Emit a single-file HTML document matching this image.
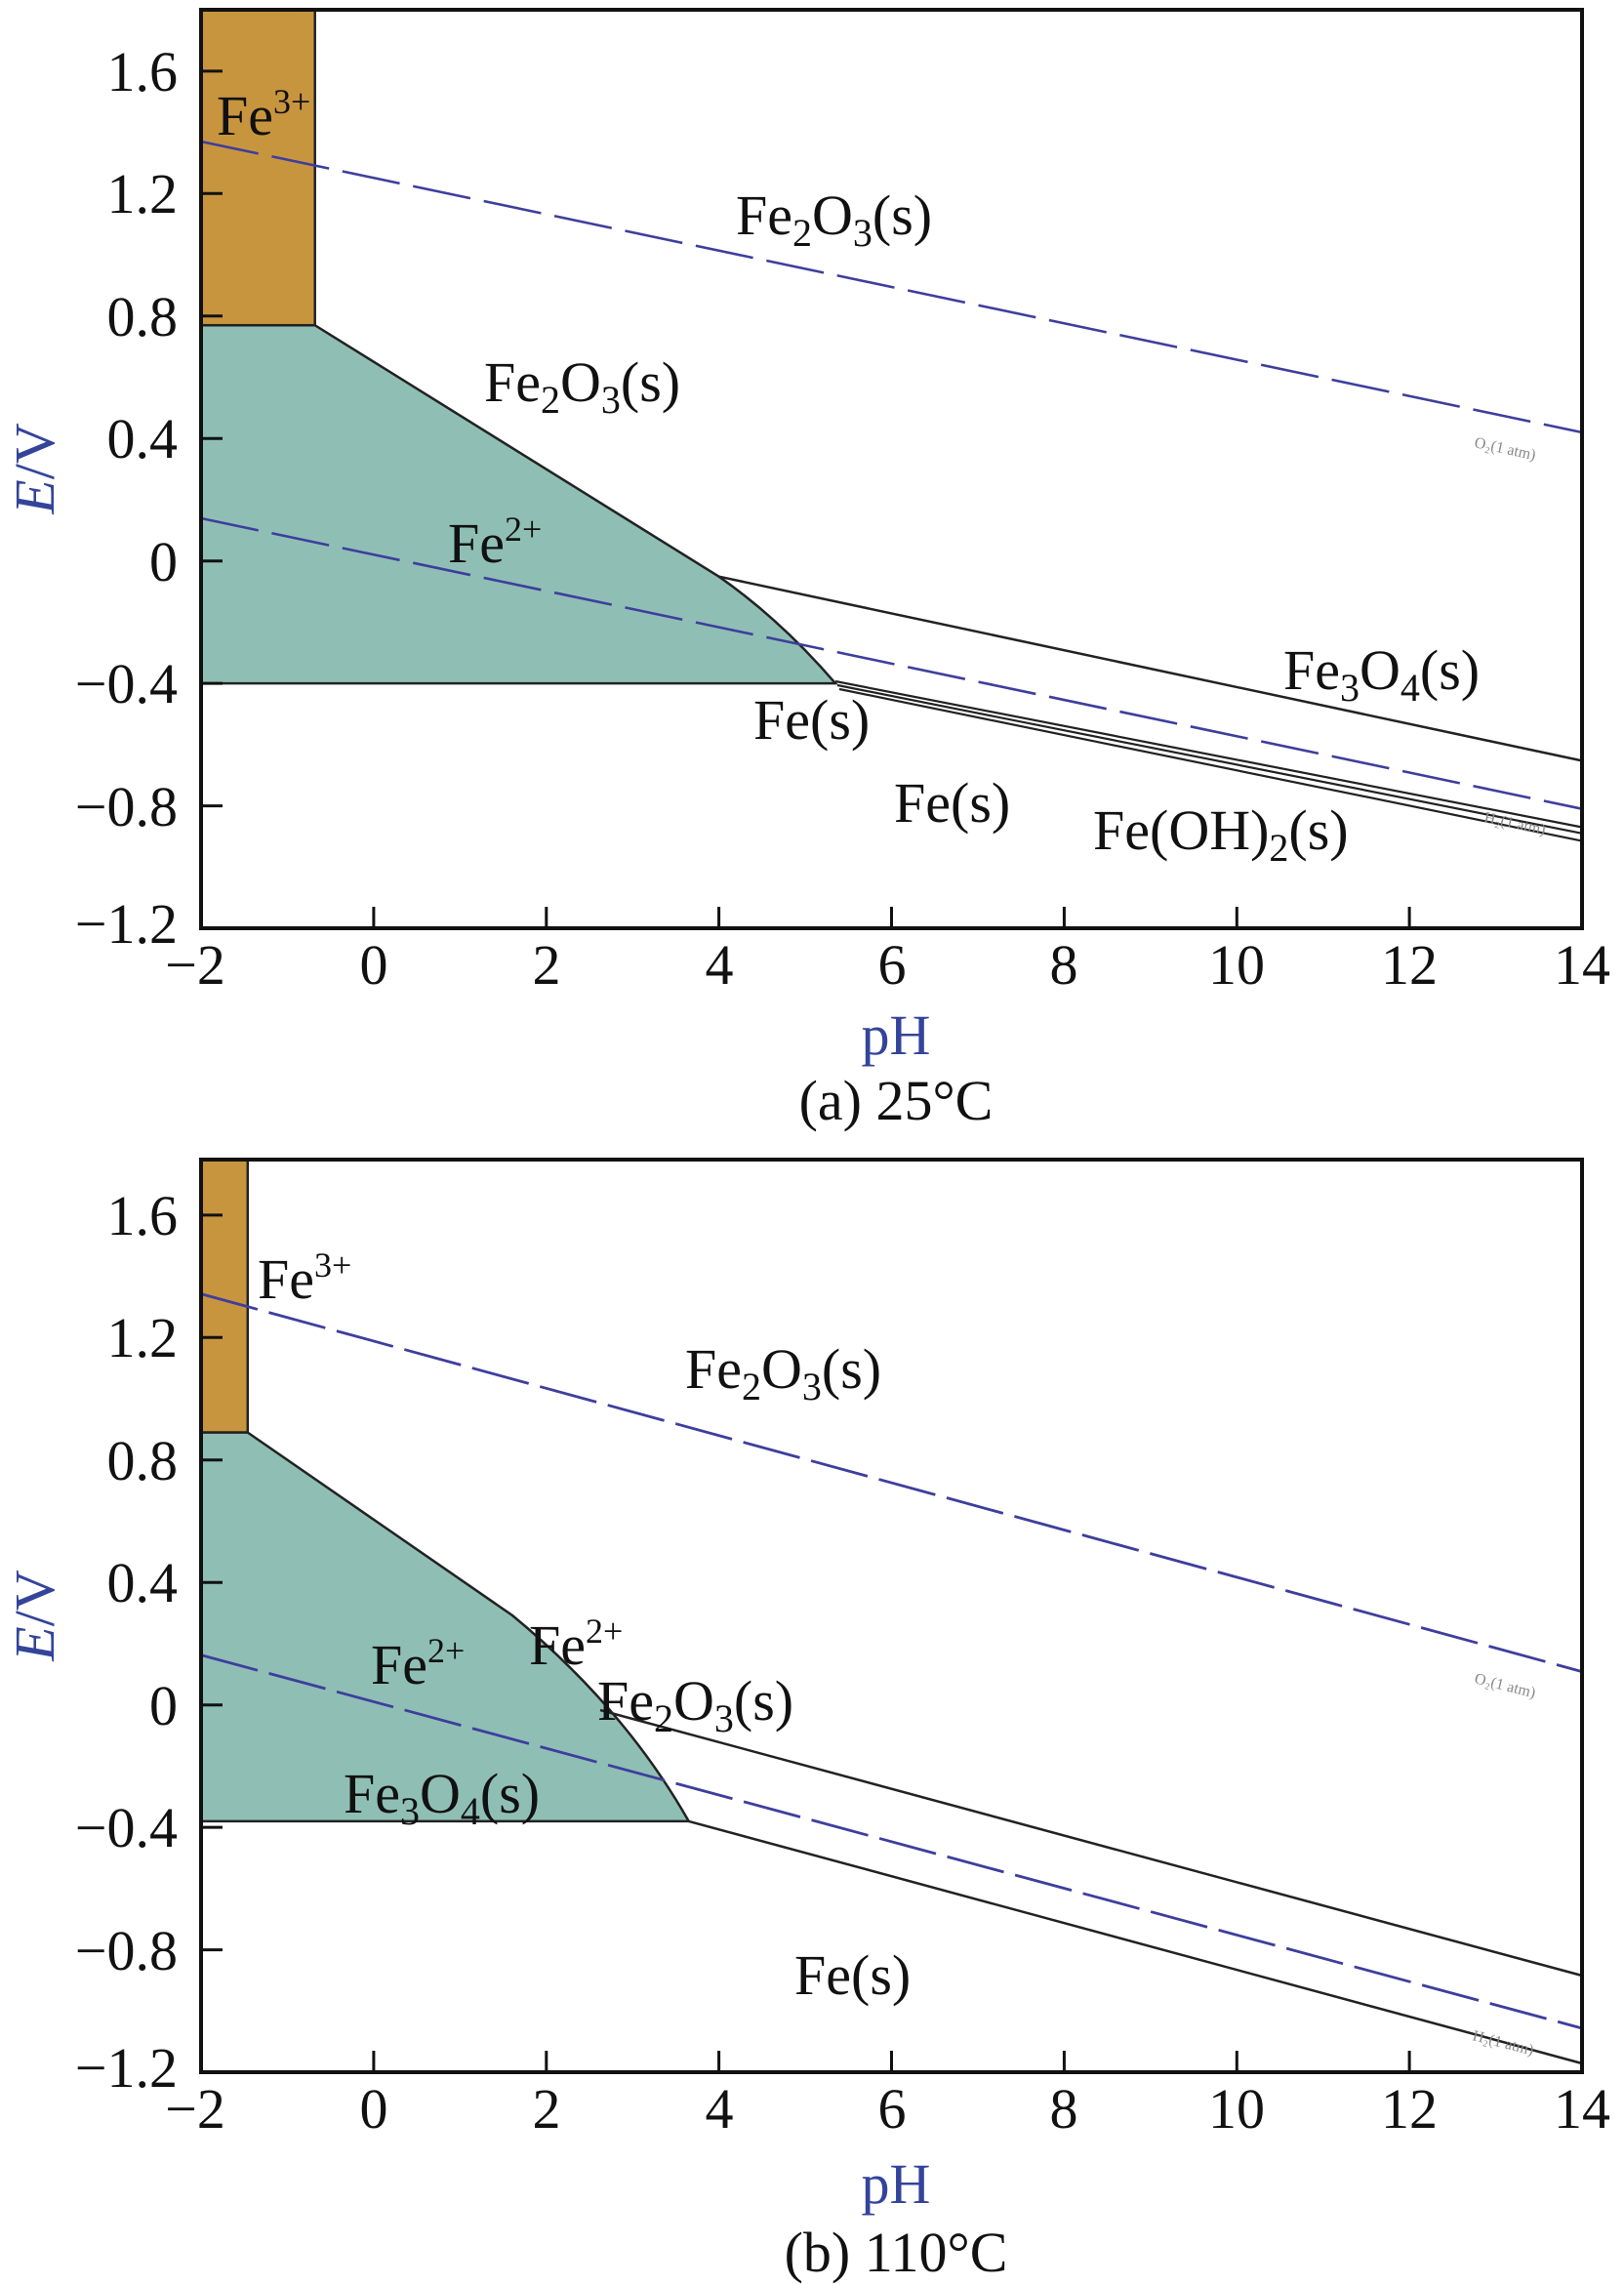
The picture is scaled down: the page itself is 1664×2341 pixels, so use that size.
<!DOCTYPE html>
<html><head><meta charset="utf-8"><style>
html,body{margin:0;padding:0;background:#fff}
svg{display:block}
text{font-family:"Liberation Serif",serif;fill:#111}
.t{font-size:58px}
.l{font-size:58px}
.ax{font-size:58px;fill:#34449a}
.sm{font-size:16px;fill:#888}
</style></head><body>
<svg width="1664" height="2341" viewBox="0 0 1664 2341" xmlns="http://www.w3.org/2000/svg">
<!-- ============ PLOT A ============ -->
<g>
<rect x="206" y="10" width="116.7" height="323.2" fill="#c8953f" stroke="#222" stroke-width="2.5"/>
<path d="M206,333.2 L322.7,333.2 L736.6,590.7 Q800,635 856,700.1 L206,700.1 Z" fill="#8fbfb4" stroke="#222" stroke-width="2.5"/>
<line x1="736.6" y1="590.7" x2="1621" y2="779.4" stroke="#222" stroke-width="2.5"/>
<line x1="856" y1="698" x2="1621" y2="847.5" stroke="#222" stroke-width="2.2"/>
<line x1="858" y1="702" x2="1621" y2="853.8" stroke="#222" stroke-width="2.2"/>
<line x1="860" y1="706" x2="1621" y2="861.6" stroke="#222" stroke-width="2.2"/>
<line x1="206" y1="531" x2="1621" y2="828.7" stroke="#3e3e9e" stroke-width="2.6" stroke-dasharray="60,14"/>
<line x1="206" y1="145" x2="1621" y2="443" stroke="#3e3e9e" stroke-width="2.6" stroke-dasharray="60,14"/>
<text class="sm" transform="translate(1510,458) rotate(12)">O₂(1 atm)</text>
<text class="sm" transform="translate(1520,842) rotate(12)">H₂(1 atm)</text>
<rect x="206" y="10" width="1415" height="941" fill="none" stroke="#111" stroke-width="4"/>
<g stroke="#111" stroke-width="3">
<line x1="206" y1="72.9" x2="228" y2="72.9"/><line x1="206" y1="198.3" x2="228" y2="198.3"/>
<line x1="206" y1="323.8" x2="228" y2="323.8"/><line x1="206" y1="449.2" x2="228" y2="449.2"/>
<line x1="206" y1="574.7" x2="228" y2="574.7"/><line x1="206" y1="700.1" x2="228" y2="700.1"/>
<line x1="206" y1="825.6" x2="228" y2="825.6"/>
<line x1="382.9" y1="951" x2="382.9" y2="929"/><line x1="559.8" y1="951" x2="559.8" y2="929"/>
<line x1="736.6" y1="951" x2="736.6" y2="929"/><line x1="913.5" y1="951" x2="913.5" y2="929"/>
<line x1="1090.4" y1="951" x2="1090.4" y2="929"/><line x1="1267.3" y1="951" x2="1267.3" y2="929"/>
<line x1="1444.1" y1="951" x2="1444.1" y2="929"/>
</g>
<g class="t" text-anchor="end">
<text x="182" y="93">1.6</text><text x="182" y="218">1.2</text><text x="182" y="344">0.8</text>
<text x="182" y="469">0.4</text><text x="182" y="595">0</text><text x="182" y="720">−0.4</text>
<text x="182" y="846">−0.8</text><text x="182" y="966">−1.2</text>
</g>
<g class="t" text-anchor="middle">
<text x="200" y="1008">−2</text><text x="383" y="1008">0</text><text x="560" y="1008">2</text>
<text x="737" y="1008">4</text><text x="914" y="1008">6</text><text x="1090" y="1008">8</text>
<text x="1267" y="1008">10</text><text x="1444" y="1008">12</text><text x="1621" y="1008">14</text>
</g>
<text class="ax" x="918" y="1080" text-anchor="middle">pH</text>
<text class="t" x="918" y="1147" text-anchor="middle">(a) 25°C</text>
<text class="ax" transform="translate(55,480) rotate(-90)" text-anchor="middle"><tspan font-style="italic">E</tspan>/V</text>
<g class="l">
<text x="222" y="138">Fe<tspan font-size="36" dy="-22">3+</tspan></text>
<text x="754" y="240">Fe<tspan font-size="40" dy="12">2</tspan><tspan dy="-12">O</tspan><tspan font-size="40" dy="12">3</tspan><tspan dy="-12">(s)</tspan></text>
<text x="496" y="411">Fe<tspan font-size="40" dy="12">2</tspan><tspan dy="-12">O</tspan><tspan font-size="40" dy="12">3</tspan><tspan dy="-12">(s)</tspan></text>
<text x="459" y="576">Fe<tspan font-size="36" dy="-22">2+</tspan></text>
<text x="1315" y="706">Fe<tspan font-size="40" dy="12">3</tspan><tspan dy="-12">O</tspan><tspan font-size="40" dy="12">4</tspan><tspan dy="-12">(s)</tspan></text>
<text x="772" y="757">Fe(s)</text>
<text x="916" y="842">Fe(s)</text>
<text x="1120" y="870">Fe(OH)<tspan font-size="40" dy="12">2</tspan><tspan dy="-12">(s)</tspan></text>
</g>
</g>
<!-- ============ PLOT B ============ -->
<g>
<rect x="206" y="1188" width="47.8" height="279.6" fill="#c8953f" stroke="#222" stroke-width="2.5"/>
<path d="M206,1467.6 L253.8,1467.6 L525,1655 Q640,1750 705.7,1865.9 L206,1865.9 Z" fill="#8fbfb4" stroke="#222" stroke-width="2.5"/>
<line x1="615" y1="1752" x2="1621" y2="2024" stroke="#222" stroke-width="2.5"/>
<line x1="705.7" y1="1865.9" x2="1621" y2="2114" stroke="#222" stroke-width="2.5"/>
<line x1="206" y1="1695.6" x2="1621" y2="2078" stroke="#3e3e9e" stroke-width="2.8" stroke-dasharray="60,12"/>
<line x1="206" y1="1325.6" x2="1621" y2="1712.6" stroke="#3e3e9e" stroke-width="2.8" stroke-dasharray="60,12"/>
<text class="sm" transform="translate(1510,1724) rotate(14)">O₂(1 atm)</text>
<text class="sm" transform="translate(1508,2090) rotate(14)">H₂(1 atm)</text>
<rect x="206" y="1188" width="1415" height="935" fill="none" stroke="#111" stroke-width="4"/>
<g stroke="#111" stroke-width="3">
<line x1="206" y1="1244.9" x2="228" y2="1244.9"/><line x1="206" y1="1370.3" x2="228" y2="1370.3"/>
<line x1="206" y1="1495.8" x2="228" y2="1495.8"/><line x1="206" y1="1621.2" x2="228" y2="1621.2"/>
<line x1="206" y1="1746.7" x2="228" y2="1746.7"/><line x1="206" y1="1872.1" x2="228" y2="1872.1"/>
<line x1="206" y1="1997.6" x2="228" y2="1997.6"/>
<line x1="382.9" y1="2123" x2="382.9" y2="2101"/><line x1="559.8" y1="2123" x2="559.8" y2="2101"/>
<line x1="736.6" y1="2123" x2="736.6" y2="2101"/><line x1="913.5" y1="2123" x2="913.5" y2="2101"/>
<line x1="1090.4" y1="2123" x2="1090.4" y2="2101"/><line x1="1267.3" y1="2123" x2="1267.3" y2="2101"/>
<line x1="1444.1" y1="2123" x2="1444.1" y2="2101"/>
</g>
<g class="t" text-anchor="end">
<text x="182" y="1265">1.6</text><text x="182" y="1390">1.2</text><text x="182" y="1516">0.8</text>
<text x="182" y="1641">0.4</text><text x="182" y="1767">0</text><text x="182" y="1892">−0.4</text>
<text x="182" y="2018">−0.8</text><text x="182" y="2138">−1.2</text>
</g>
<g class="t" text-anchor="middle">
<text x="200" y="2180">−2</text><text x="383" y="2180">0</text><text x="560" y="2180">2</text>
<text x="737" y="2180">4</text><text x="914" y="2180">6</text><text x="1090" y="2180">8</text>
<text x="1267" y="2180">10</text><text x="1444" y="2180">12</text><text x="1621" y="2180">14</text>
</g>
<text class="ax" x="918" y="2257" text-anchor="middle">pH</text>
<text class="t" x="918" y="2327" text-anchor="middle">(b) 110°C</text>
<text class="ax" transform="translate(55,1655) rotate(-90)" text-anchor="middle"><tspan font-style="italic">E</tspan>/V</text>
<g class="l">
<text x="264" y="1330">Fe<tspan font-size="36" dy="-22">3+</tspan></text>
<text x="702" y="1422">Fe<tspan font-size="40" dy="12">2</tspan><tspan dy="-12">O</tspan><tspan font-size="40" dy="12">3</tspan><tspan dy="-12">(s)</tspan></text>
<text x="380" y="1725">Fe<tspan font-size="36" dy="-22">2+</tspan></text>
<text x="542" y="1705">Fe<tspan font-size="36" dy="-22">2+</tspan></text>
<text x="612" y="1762">Fe<tspan font-size="40" dy="12">2</tspan><tspan dy="-12">O</tspan><tspan font-size="40" dy="12">3</tspan><tspan dy="-12">(s)</tspan></text>
<text x="352" y="1857">Fe<tspan font-size="40" dy="12">3</tspan><tspan dy="-12">O</tspan><tspan font-size="40" dy="12">4</tspan><tspan dy="-12">(s)</tspan></text>
<text x="814" y="2043">Fe(s)</text>
</g>
</g>
</svg>
</body></html>
